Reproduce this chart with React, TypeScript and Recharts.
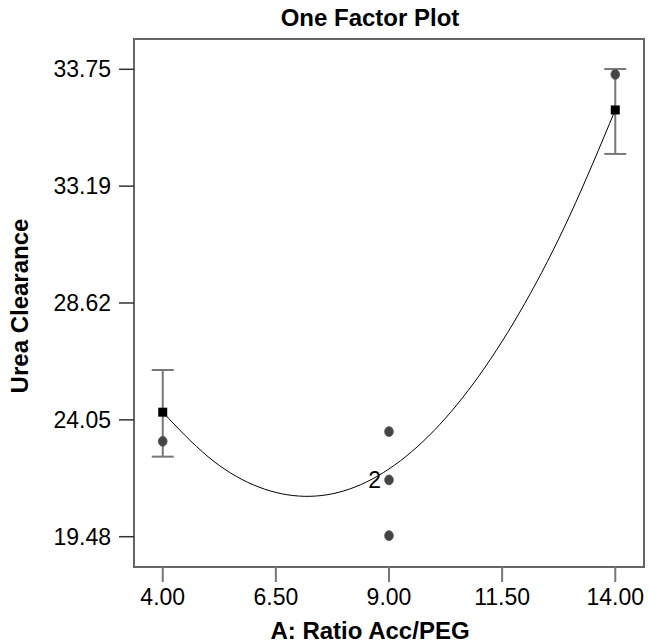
import React from "react";
import {
  ComposedChart,
  ErrorBar,
  Line,
  ReferenceArea,
  Scatter,
  XAxis,
  YAxis,
} from "recharts";

// x axis: A: Ratio Acc/PEG
const xTicks = [4, 6.5, 9, 11.5, 14];
const xDomain = [3.365, 14.635];

// y axis: Urea Clearance (top label reads 33.75 in the original)
const yTicks = [19.48, 24.05, 28.62, 33.19, 37.76];
const yTickLabels = ["19.48", "24.05", "28.62", "33.19", "33.75"];
const yDomain = [18.295, 38.945];

// observed runs (n = points stacked on the same spot)
const obsX = [4, 9, 9, 9, 14];
const obsY = [23.21, 23.59, 21.7, 19.52, 37.56];
const obsN = [1, 1, 2, 1, 1];

// predicted means with LSD bars
const meanX = [4, 14];
const meanY = [24.35, 36.17];
const meanLow = [22.61, 34.45];
const meanHigh = [26.0, 37.77];

// fitted curve
const curveX = [4, 5, 6, 7, 8, 9, 10, 11, 12, 13, 14];
const curveY = [24.35, 22.61, 21.51, 21.07, 21.27, 22.13, 23.64, 25.8, 28.6, 32.06, 36.17];

const obsData = obsX.map((x, i) => ({ x, y: obsY[i], n: obsN[i] }));
const meanData = meanX.map((x, i) => ({
  x,
  y: meanY[i],
  err: [meanY[i] - meanLow[i], meanHigh[i] - meanY[i]],
}));
const curveData = curveX.map((x, i) => ({ x, y: curveY[i] }));

const FONT = "'Liberation Sans', Arial, sans-serif";
const TITLE_X = 370;

function Dot(props: any) {
  const { cx, cy, payload } = props;
  return (
    <g>
      <ellipse cx={cx} cy={cy} rx={4.3} ry={4.9} fill="#444" stroke="#5a5a5a" strokeWidth={1} />
      {payload && payload.n > 1 ? (
        <text
          x={cx - 8}
          y={cy}
          textAnchor="end"
          dominantBaseline="central"
          fontSize={23}
          fontFamily={FONT}
          fill="#000"
        >
          {payload.n}
        </text>
      ) : null}
    </g>
  );
}

function Square(props: any) {
  const { cx, cy } = props;
  return <rect x={cx - 4.5} y={cy - 4.5} width={9} height={9} fill="#000" />;
}

export default function App() {
  return (
    <div style={{ position: "absolute", left: 0, top: 0, width: 649, height: 644, background: "#fff" }}>
      <ComposedChart
        width={649}
        height={644}
        margin={{ top: 39, right: 5, bottom: 0, left: 0 }}
        style={{ fontFamily: FONT }}
      >
        <XAxis
          type="number"
          dataKey="x"
          domain={xDomain}
          ticks={xTicks}
          interval={0}
          height={77}
          tickSize={15}
          tickMargin={7}
          axisLine={false}
          tickLine={{ stroke: "#777", strokeWidth: 2 }}
          tick={{ fill: "#000", fontSize: 23 }}
          tickFormatter={(v: number) => v.toFixed(2)}
          label={{
            position: "insideBottom",
            content: (p: any) => {
              const vb = p.viewBox;
              return (
                <text
                  x={TITLE_X}
                  y={vb.y + vb.height - 5}
                  textAnchor="middle"
                  fontSize={24}
                  fontWeight="bold"
                  fontFamily={FONT}
                  fill="#000"
                >
                  A: Ratio Acc/PEG
                </text>
              );
            },
          }}
        />
        <YAxis
          type="number"
          domain={yDomain}
          ticks={yTicks}
          interval={0}
          width={134}
          tickSize={15}
          tickMargin={8}
          axisLine={false}
          tickLine={{ stroke: "#333", strokeWidth: 1.5 }}
          tick={{ fill: "#000", fontSize: 23 }}
          tickFormatter={(_v: number, i: number) => yTickLabels[i]}
          label={{
            position: "insideLeft",
            content: (p: any) => {
              const vb = p.viewBox;
              const x = vb.x + 19;
              const y = vb.y + vb.height / 2 + 3;
              return (
                <text
                  x={x}
                  y={y}
                  transform={`rotate(-90, ${x}, ${y})`}
                  textAnchor="middle"
                  dominantBaseline="central"
                  fontSize={24}
                  fontWeight="bold"
                  fontFamily={FONT}
                  fill="#000"
                >
                  Urea Clearance
                </text>
              );
            },
          }}
        />
        <ReferenceArea
          x1={xDomain[0]}
          x2={xDomain[1]}
          y1={yDomain[0]}
          y2={yDomain[1]}
          fill="none"
          fillOpacity={0}
          stroke="#666"
          strokeWidth={2}
          label={{
            position: "top",
            content: (p: any) => {
              const vb = p.viewBox;
              return (
                <text
                  x={TITLE_X}
                  y={vb.y - 13}
                  textAnchor="middle"
                  fontSize={24}
                  fontWeight="bold"
                  fontFamily={FONT}
                  fill="#000"
                >
                  One Factor Plot
                </text>
              );
            },
          }}
        />
        <Line
          data={curveData}
          dataKey="y"
          type="natural"
          stroke="#000"
          strokeWidth={1}
          dot={false}
          activeDot={false}
          isAnimationActive={false}
        />
        <Scatter data={meanData} dataKey="y" shape={Square} isAnimationActive={false}>
          <ErrorBar dataKey="err" direction="y" width={11} stroke="#777" strokeWidth={2} />
        </Scatter>
        <Scatter data={obsData} dataKey="y" shape={Dot} isAnimationActive={false} />
      </ComposedChart>
    </div>
  );
}
